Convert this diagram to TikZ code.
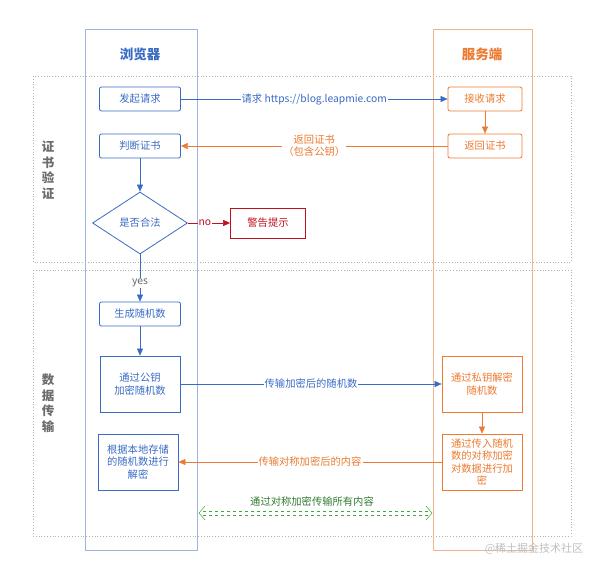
\documentclass[tikz,border=0pt]{standalone}
\usepackage{fontspec}
\setmainfont{Noto Sans CJK SC}
\usetikzlibrary{arrows.meta,shapes.geometric}
\definecolor{cblue}{HTML}{3A6BC4}
\definecolor{clane}{HTML}{9DB3E0}
\definecolor{corange}{HTML}{EC7A30}
\definecolor{cside}{HTML}{F2B48E}
\definecolor{cred}{HTML}{C0101E}
\definecolor{cgreen}{HTML}{3DA63D}
\definecolor{ctgreen}{HTML}{2E7A30}
\begin{document}
\begin{tikzpicture}[
        x = 1pt, y = -1pt,
        every node/.style = {font = \fontsize{10.3}{12.5}\selectfont},
        bbox/.style = {draw = cblue, thick, rounded corners = 2pt, text = cblue, minimum width = 81pt, minimum height = 24pt, inner sep = 0pt},
        obox/.style = {draw = corange, thick, rounded corners = 2pt, text = corange, minimum width = 74pt, minimum height = 24pt, inner sep = 0pt},
        bsq/.style = {draw = cblue, thick, text = cblue, minimum width = 80pt, minimum height = 56pt, inner sep = 0pt, align = center},
        osq/.style = {draw = corange, thick, text = corange, minimum width = 80pt, minimum height = 56pt, inner sep = 0pt, align = center},
        lbl/.style = {fill = white, inner sep = 1pt, align = center},
        side/.style = {text = gray!85!black, font = \fontsize{12.5}{15.5}\selectfont\bfseries, align = center},
        ttl/.style = {font = \fontsize{13.5}{16}\selectfont\bfseries},
        barr/.style = {draw = cblue, -{Triangle[width = 6pt, length = 7pt]}},
        oarr/.style = {draw = corange, -{Triangle[width = 6pt, length = 7pt]}},
        rarr/.style = {draw = cred, -{Triangle[width = 6pt, length = 7pt]}},
        gdash/.style = {draw = cgreen, dashed, line width = 0.7pt},
    ]
    \useasboundingbox (0,0) rectangle (594,562);

    % sections
    \draw[gray!60, dotted, thick] (33,76) rectangle (571,262);
    \draw[gray!60, dotted, thick] (33,270) rectangle (571,536);
    \node (s1) [side] at (48,170) {证\\书\\验\\证};
    \node (s2) [side] at (48,403) {数\\据\\传\\输};

    % lanes
    \draw[clane] (85,29) rectangle (197,550);
    \draw[cside] (433,29) rectangle (532,550);
    \node (tb) [ttl, text = cblue] at (140,54) {浏览器};
    \node (ts) [ttl, text = corange] at (482,54) {服务端};

    % browser
    \node (req) [bbox] at (140,99) {发起请求};
    \node (chk) [bbox] at (140,146) {判断证书};
    \node (ok) [draw = cblue, thick, diamond, text = cblue, minimum width = 95pt, minimum height = 62pt, inner sep = 0pt] at (140,223) {是否合法};
    \node (warn) [draw = cred, thick, text = cred, minimum width = 75pt, minimum height = 30pt, inner sep = 0pt] at (268,223) {警告提示};
    \node (gen) [bbox] at (140,314) {生成随机数};
    \node (enc) [bsq] at (140,384) {通过公钥\\加密随机数};
    \node (dec) [bsq] at (138,462) {根据本地存储\\的随机数进行\\解密};

    % server
    \node (recv) [obox] at (485,99) {接收请求};
    \node (cert) [obox] at (485,146) {返回证书};
    \node (pdec) [osq] at (482,384) {通过私钥解密\\随机数};
    \node (senc) [osq] at (482,462) {通过传入随机\\数的对称加密\\对数据进行加\\密};

    \path[barr] (req) -- node[lbl, text = cblue] {请求 https://blog.leapmie.com} (recv);
    \path[oarr] (recv) -- (cert);
    \path[oarr] (cert) -- node[lbl, text = corange, font = \fontsize{10.3}{12}\selectfont] {返回证书\\（包含公钥）} (chk);
    \path[barr] (chk) -- (ok);
    \path[rarr] (ok) -- node[lbl, text = cred, pos = 0.4] {no} (warn);
    \path[barr] (ok) -- node[lbl, text = gray!80!black, pos = 0.6] {yes} (gen);
    \path[barr] (gen) -- (enc);
    \path[barr] (enc) -- node[lbl, text = cblue] {传输加密后的随机数} (pdec);
    \path[oarr] (pdec) -- (senc);
    \path[oarr] (senc) -- node[lbl, text = corange] {传输对称加密后的内容} (dec);

    % symmetric channel
    \coordinate (gl) at (199,513);
    \coordinate (gr) at (432,513);
    \path[gdash] ([xshift = 4pt, yshift = 2pt]gl) -- ([xshift = -4pt, yshift = 2pt]gr);
    \path[gdash] ([xshift = 4pt, yshift = -2pt]gl) -- ([xshift = -4pt, yshift = -2pt]gr);
    \draw[cgreen, line width = 0.5pt] ([xshift = 6pt, yshift = 7pt]gl) -- (gl) -- ([xshift = 6pt, yshift = -7pt]gl);
    \draw[cgreen, line width = 0.5pt] ([xshift = -6pt, yshift = 7pt]gr) -- (gr) -- ([xshift = -6pt, yshift = -7pt]gr);
    \node (sym) [text = ctgreen] at (312,502) {通过对称加密传输所有内容};

    \node (wm) [text = gray!50, font = \fontsize{11}{13}\selectfont] at (534,549) {@稀土掘金技术社区};
\end{tikzpicture}
\end{document}
